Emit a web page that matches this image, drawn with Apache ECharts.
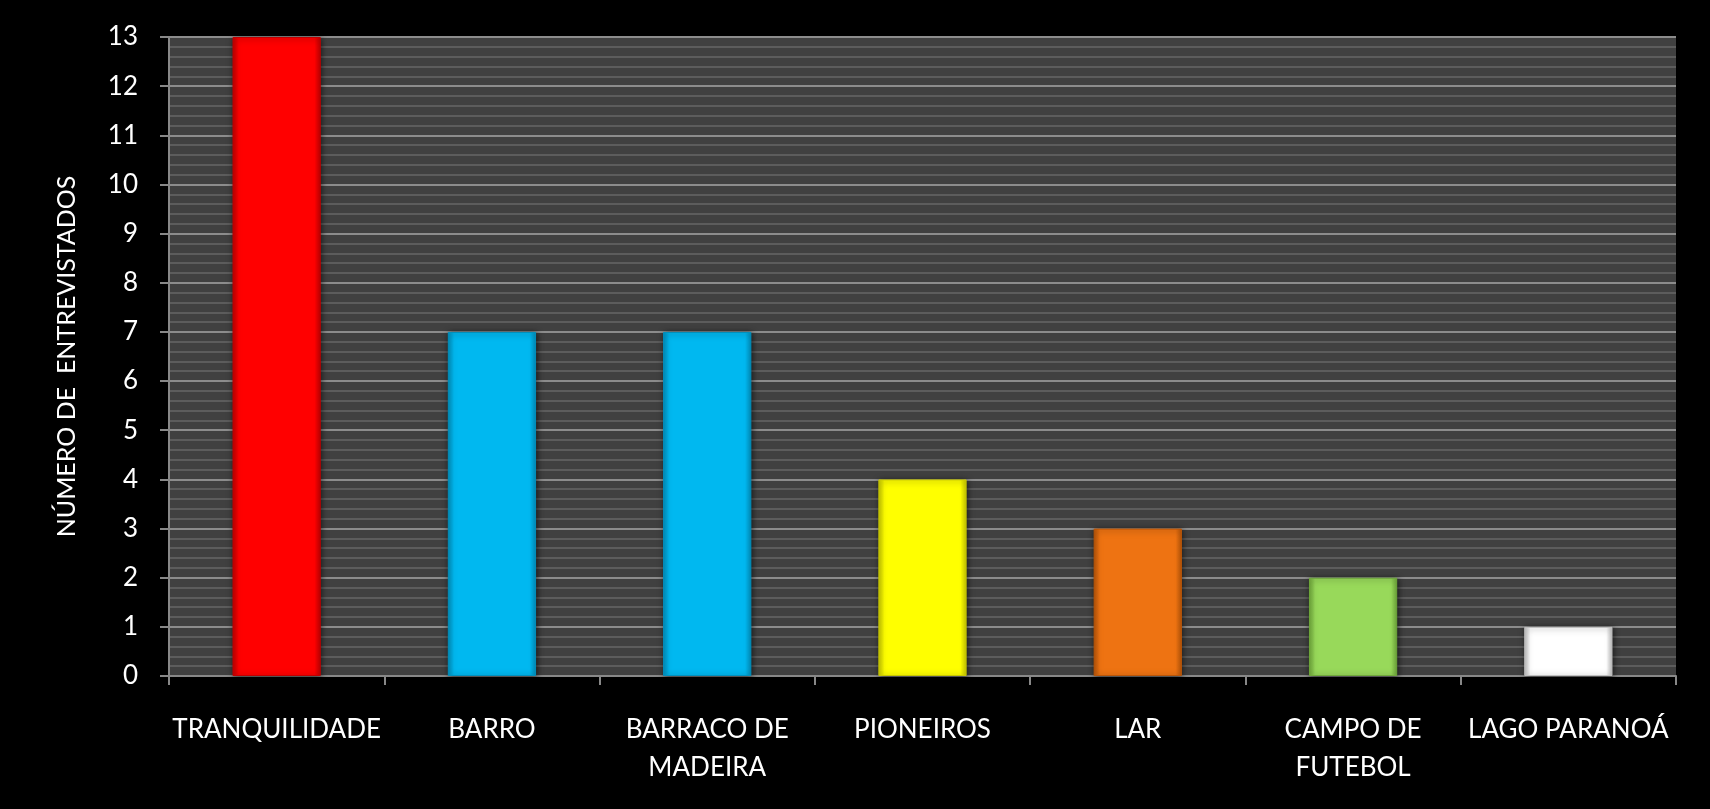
<!DOCTYPE html>
<html>
<head>
<meta charset="utf-8">
<script src="https://cdn.jsdelivr.net/npm/echarts@6/dist/echarts.min.js"></script>
<style>
html,body{margin:0;padding:0;background:#000;}
#c{width:1710px;height:809px;}
</style>
</head>
<body>
<div id="c"></div>
<script>
var categories = ['TRANQUILIDADE', 'BARRO', 'BARRACO DE\nMADEIRA', 'PIONEIROS', 'LAR', 'CAMPO DE\nFUTEBOL', 'LAGO PARANOÁ'];
var values = [13, 7, 7, 4, 3, 2, 1];
var barColors = ['#FF0000', '#00B8F0', '#00B8F0', '#FFFF00', '#EE7312', '#98D95A', '#FFFFFF'];
var edgeColors = ['#C00000', '#0090BE', '#0090BE', '#C8C800', '#B85508', '#6FA83A', '#BFBFBF'];
var yTitle = 'NÚMERO DE  ENTREVISTADOS';

var chart = echarts.init(document.getElementById('c'));
var data = values.map(function (v, i) {
  return {
    value: v,
    itemStyle: {
      color: new echarts.graphic.LinearGradient(0, 0, 1, 0, [
        {offset: 0, color: edgeColors[i]},
        {offset: 0.07, color: barColors[i]},
        {offset: 0.93, color: barColors[i]},
        {offset: 1, color: edgeColors[i]}
      ]),
      borderColor: edgeColors[i],
      borderWidth: 1,
      shadowColor: 'rgba(0,0,0,0.6)',
      shadowBlur: 6,
      shadowOffsetX: 1,
      shadowOffsetY: 1
    }
  };
});

chart.setOption({
  backgroundColor: '#000000',
  animation: false,
  grid: {left: 169, top: 37, right: 34, bottom: 133, backgroundColor: '#404040', show: true, borderWidth: 0},
  xAxis: {
    type: 'category',
    data: categories,
    axisLine: {lineStyle: {color: '#888888', width: 2}},
    axisTick: {show: true, length: 9, lineStyle: {color: '#888888', width: 2}},
    axisLabel: {color: '#FFFFFF', fontFamily: 'Lato', fontSize: 26, lineHeight: 38, margin: 35, interval: 0}
  },
  yAxis: {
    type: 'value',
    min: 0, max: 13, interval: 1,
    name: yTitle,
    nameLocation: 'middle',
    nameGap: 90,
    nameRotate: 90,
    nameTextStyle: {color: '#FFFFFF', fontFamily: 'Lato', fontSize: 25},
    axisLine: {show: true, lineStyle: {color: '#888888', width: 2}},
    axisTick: {show: true, length: 9, lineStyle: {color: '#888888', width: 2}},
    axisLabel: {color: '#FFFFFF', fontFamily: 'Lato', fontSize: 26, margin: 31},
    splitLine: {lineStyle: {color: '#8C8C8C', width: 2}},
    minorTick: {show: false, splitNumber: 5},
    minorSplitLine: {show: true, lineStyle: {color: '#5C5C5C', width: 2}}
  },
  series: [{
    type: 'bar',
    data: data,
    barWidth: '41%'
  }]
});
</script>
</body>
</html>
